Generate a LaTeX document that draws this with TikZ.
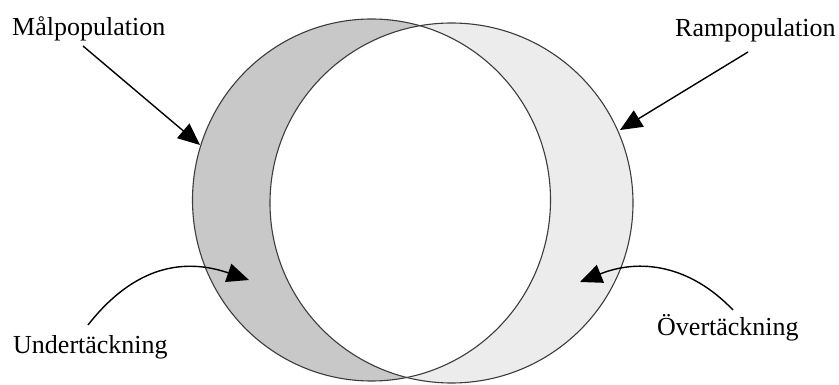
\documentclass[tikz,border=0pt]{standalone}
\usepackage{fontspec}
\setmainfont{Liberation Serif}
\usetikzlibrary{arrows.meta}
\definecolor{darkfill}{RGB}{200,200,200}
\definecolor{lightfill}{RGB}{236,236,236}
\definecolor{outline}{RGB}{60,60,60}
\tikzset{
  lbl/.style={font=\fontsize{26}{30}\selectfont, inner sep=0pt, anchor=base west},
  pointer/.style={line width=1.4pt, -{Triangle[length=22pt,width=19pt]}},
  rim/.style={draw=outline, line width=1.1pt}
}
\begin{document}
\begin{tikzpicture}[x=1pt,y=-1pt]
\useasboundingbox (0,0) rectangle (839,385);
% fills
\fill[darkfill] (371.5,200) ellipse [x radius=179, y radius=181];
\fill[lightfill] (451.5,203) ellipse [x radius=181.5, y radius=180];
\begin{scope}
  \clip (371.5,200) ellipse [x radius=179, y radius=181];
  \fill[white] (451.5,203) ellipse [x radius=181.5, y radius=180];
\end{scope}
\draw[rim] (371.5,200) ellipse [x radius=179, y radius=181];
\draw[rim] (451.5,203) ellipse [x radius=181.5, y radius=180];
% labels
\node[lbl] (mal) at (12,36) {Målpopulation};
\node[lbl] (ram) at (675,37) {Rampopulation};
\node[lbl] (under) at (13,353) {Undertäckning};
\node[lbl] (over) at (657,335) {Övertäckning};
% arrow ends
\coordinate (malS) at (83,46);
\coordinate (malT) at (200,145);
\coordinate (ramS) at (748,52);
\coordinate (ramT) at (620,130);
\coordinate (underS) at (88,325);
\coordinate (underT) at (249,280);
\coordinate (overS) at (733,310);
\coordinate (overT) at (580,282);
\draw[pointer] (malS) -- (malT);
\draw[pointer] (ramS) -- (ramT);
\draw[pointer] (underS) .. controls (135,265) and (185,258) .. (underT);
\draw[pointer] (overS) .. controls (690,265) and (640,258) .. (overT);
\end{tikzpicture}
\end{document}
